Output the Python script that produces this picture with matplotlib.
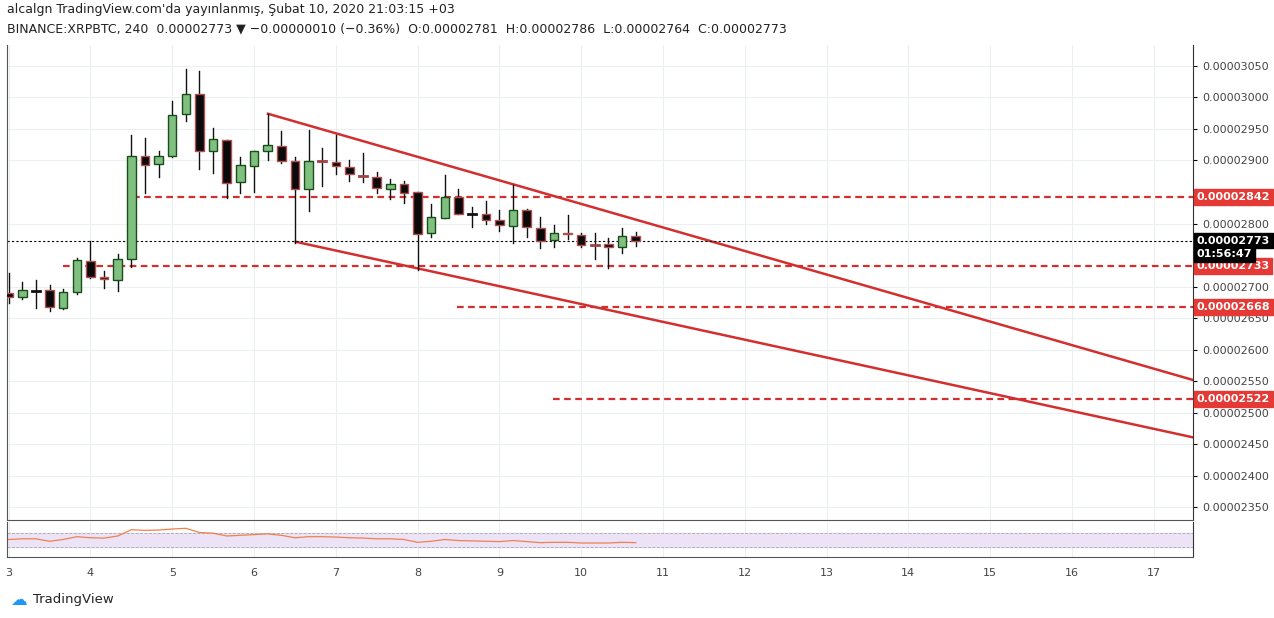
import matplotlib
matplotlib.use("Agg")
import matplotlib.pyplot as plt
from matplotlib.patches import Rectangle

# prices in units of 1e-8 BTC, 4h candles starting Feb 3
opens  = [2690,2683,2693,2694,2666,2691,2741,2715,2710,2744,2907,2894,2907,2974,3006,2915,2933,2866,2891,2915,
          2923,2899,2855,2899,2898,2890,2876,2874,2855,2863,2850,2785,2809,2842,2815,2815,2805,2796,2821,2793,
          2774,2785,2782,2766,2767,2763,2781]
closes = [2683,2694,2693,2668,2691,2742,2715,2712,2744,2907,2893,2907,2972,3006,2915,2934,2864,2893,2915,2925,
          2899,2855,2899,2898,2891,2879,2875,2856,2863,2848,2783,2810,2842,2815,2815,2806,2798,2821,2794,2772,
          2785,2783,2766,2765,2763,2780,2773]
highs  = [2721,2707,2710,2702,2696,2745,2772,2725,2752,2940,2936,2915,2994,3045,3042,2952,2933,2906,2915,2974,
          2947,2906,2948,2920,2940,2901,2912,2882,2871,2868,2850,2831,2877,2855,2826,2836,2821,2861,2823,2810,
          2798,2814,2785,2785,2777,2793,2786]
lows   = [2674,2680,2666,2661,2664,2689,2713,2698,2693,2731,2848,2874,2906,2963,2887,2880,2840,2848,2850,2901,
          2896,2769,2820,2860,2879,2868,2866,2848,2839,2833,2726,2779,2809,2815,2795,2799,2788,2769,2779,2761,
          2763,2775,2763,2744,2729,2753,2764]
rsi    = [50,52,52,45,50,58,55,54,60,78,76,77,80,82,70,68,60,62,64,66,
          62,55,58,58,57,55,54,52,52,50,42,45,50,47,46,45,44,47,44,41,
          42,42,40,40,40,42,41]
hlines = [2842, 2733, 2668, 2522]
hline_start = [4.52, 3.67, 8.48, 9.65]
upper_line = ([6.17, 17.48], [2974, 2552])
lower_line = ([6.51, 17.48], [2771, 2461])
last_price = 2773
day_ticks = list(range(3, 18))
price_ticks = [2350, 2400, 2450, 2500, 2550, 2600, 2650, 2700, 2800, 2900, 2950, 3000, 3050]

W, H = 1274, 618
fig = plt.figure(figsize=(W/100, H/100), dpi=100)
fig.patch.set_facecolor("white")
L, R = 7/W, 1193/W
ax = fig.add_axes([L, 1-520/H, R-L, (520-45)/H])
ax2 = fig.add_axes([L, 1-557/H, R-L, (557-522)/H], sharex=ax)
xmin, xmax = 2.98, 17.48
ax.set_xlim(xmin, xmax)
ax.set_ylim(2330, 3083)

green, dark, red = "#7fbf7f", "#0a0a0a", "#d32f2f"
hw = 0.052
for i in range(len(opens)):
    x = 3 + i/6
    o, c, h, l = opens[i], closes[i], highs[i], lows[i]
    up = c >= o
    ax.plot([x, x], [l, h], color="#111111", lw=1, zorder=3)
    b = abs(c-o)
    if b < 2:
        ax.plot([x-hw, x+hw], [o, o], color="#111111" if up else "#a04040", lw=2, zorder=4)
    else:
        ax.add_patch(Rectangle((x-hw, min(o, c)), 2*hw, b, facecolor=green if up else dark,
                               edgecolor="#1b4d1b" if up else "#b05050", lw=1, zorder=4))

for y, s in zip(hlines, hline_start):
    ax.plot([s, xmax], [y, y], color=red, lw=1.6, ls=(0, (3, 2)), zorder=2)
ax.plot(*upper_line, color=red, lw=1.8, zorder=2)
ax.plot(*lower_line, color=red, lw=1.8, zorder=2)
ax.axhline(last_price, color="black", lw=0.8, ls=(0, (2, 2)), zorder=2)

for a in (ax, ax2):
    a.set_xticks(day_ticks)
    a.grid(True, color="#eceff2", lw=0.8)
    a.set_axisbelow(True)
    for sp in a.spines.values():
        sp.set_color("#555555")
    a.spines["top"].set_visible(False)
    a.spines["right"].set_color("#333333")
ax.set_yticks(price_ticks)
ax.yaxis.tick_right()
ax.set_yticklabels([f"{p*1e-8:.8f}" for p in price_ticks], fontsize=8, color="#444444")
ax.tick_params(axis="x", labelbottom=False, length=0)
ax.tick_params(axis="y", length=3)

def tag(y, text, fc):
    ax.text(1.003, y, text, transform=ax.get_yaxis_transform(), fontsize=8, color="white",
            fontweight="bold", va="center", ha="left",
            bbox=dict(boxstyle="square,pad=0.25", fc=fc, ec=fc), zorder=10)
for y in hlines:
    tag(y, f"{y*1e-8:.8f}", "#e53935")
tag(last_price, f"{last_price*1e-8:.8f}", "black")
tag(last_price-22, "01:56:47", "black")

ax2.set_ylim(0, 100)
ax2.axhspan(30, 70, color="#ece3f7")
ax2.axhline(70, color="#aaaaaa", lw=0.6, ls="--")
ax2.axhline(30, color="#aaaaaa", lw=0.6, ls="--")
ax2.plot([3+i/6 for i in range(len(rsi))], rsi, color="#f08050", lw=0.9)
ax2.set_yticks([])
ax2.tick_params(axis="x", labelsize=8, length=0, colors="#444444", pad=8)

fig.text(7/W, 1-10/H, "alcalgn TradingView.com'da yayınlanmış, Şubat 10, 2020 21:03:15 +03",
         fontsize=9, va="center", color="#222222")
fig.text(7/W, 1-29/H, "BINANCE:XRPBTC, 240  0.00002773 ▼ −0.00000010 (−0.36%)  O:0.00002781  H:0.00002786  L:0.00002764  C:0.00002773",
         fontsize=9, va="center", color="#222222")
fig.text(33/W, 1-600/H, "TradingView", fontsize=9.5, va="center", color="#222222")
fig.text(10/W, 1-600/H, "☁", fontsize=12, va="center", color="#2196f3")
fig.savefig("out.png", dpi=100)
